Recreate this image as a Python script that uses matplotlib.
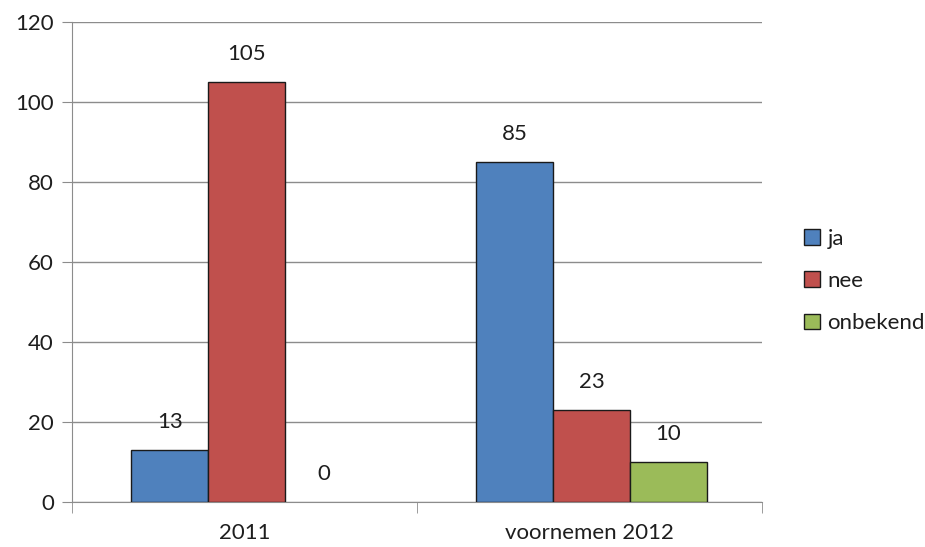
import numpy as np
import matplotlib
matplotlib.use('Agg')
import matplotlib.pyplot as plt
from matplotlib.patches import Patch

categories = ['2011', 'voornemen 2012']
series = ['ja', 'nee', 'onbekend']
ja = [13, 85]
nee = [105, 23]
onbekend = [0, 10]
colors = ['#4f81bd', '#c0504d', '#9bbb59']

plt.rcParams['font.family'] = ['Lato', 'DejaVu Sans']
txt = '#1e1e1e'
fs = 16

fig = plt.figure(figsize=(9.25, 5.47), dpi=100)
ax = fig.add_axes([72/925, 1-502/547, (762-72)/925, (502-22)/547])

x = np.arange(len(categories)) + 0.506
w = 0.223
for i, (name, vals) in enumerate(zip(series, [ja, nee, onbekend])):
  pos = x + (i - 1) * w
  lw = [1 if v > 0 else 0 for v in vals]
  ax.bar(pos, vals, w, color=colors[i], edgecolor='#1a1a1a', linewidth=lw, label=name, zorder=3)
  for p, v in zip(pos, vals):
    ax.annotate(str(v), (p, v), xytext=(0, 20.5), textcoords='offset points',
                ha='center', va='center', fontsize=fs, color=txt)

ax.set_xlim(0, 2)
ax.set_ylim(0, 120)
ax.set_yticks(range(0, 121, 20))
ax.yaxis.grid(True, color='#8c8c8c', linewidth=1, zorder=0)
ax.set_xticks(np.arange(len(categories)) + 0.5)
ax.set_xticklabels(categories)
ax.set_xticks([0, 1, 2], minor=True)
ax.tick_params(axis='x', which='major', length=0, pad=15, labelsize=fs, labelcolor=txt)
ax.tick_params(axis='x', which='minor', length=8, color='#8c8c8c')
ax.tick_params(axis='y', length=7, color='#8c8c8c', labelsize=fs, labelcolor=txt, pad=6)
for s in ['top', 'right']:
  ax.spines[s].set_visible(False)
for s in ['left', 'bottom']:
  ax.spines[s].set_color('#8c8c8c')

# zero bar has no edge, so legend handles are made by hand
handles = [Patch(facecolor=c, edgecolor='#1a1a1a', linewidth=1, label=n) for c, n in zip(colors, series)]
leg = fig.legend(handles=handles, loc='center left', bbox_to_anchor=(804/925, 1-281/547), frameon=False,
                 borderpad=0, borderaxespad=0, fontsize=fs, handlelength=0.7, handleheight=0.7,
                 handletextpad=0.35, labelspacing=1.0, labelcolor=txt)

fig.savefig('out.png', dpi=100)
